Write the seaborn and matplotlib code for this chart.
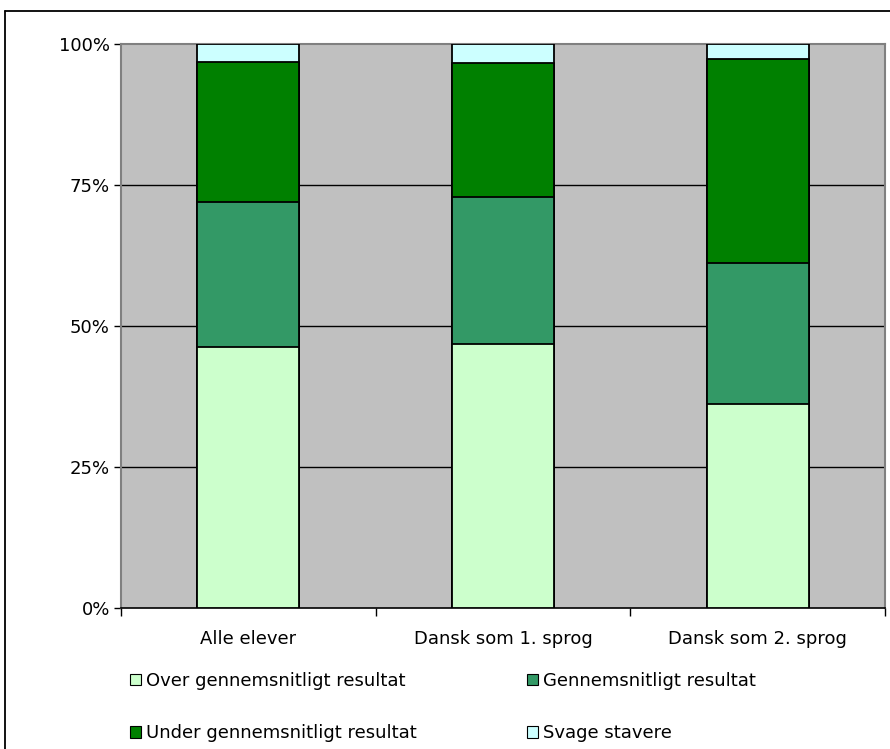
import numpy as np
import pandas as pd
import matplotlib
matplotlib.use("Agg")
import matplotlib.pyplot as plt
from matplotlib.patches import Patch
from matplotlib.lines import Line2D
from matplotlib.ticker import FixedLocator, PercentFormatter
import seaborn as sns

# Stavetest: andel elever fordelt på resultatgruppe
groups = ["Alle elever", "Dansk som 1. sprog", "Dansk som 2. sprog"]
over = [46.3, 46.8, 36.2]      # Over gennemsnitligt resultat
middel = [25.7, 26.0, 24.9]    # Gennemsnitligt resultat
under = [24.8, 23.8, 36.3]     # Under gennemsnitligt resultat
svage = [3.2, 3.4, 2.6]        # Svage stavere

series_names = ["Over gennemsnitligt resultat", "Gennemsnitligt resultat",
                "Under gennemsnitligt resultat", "Svage stavere"]
series_values = [over, middel, under, svage]
series_colors = ["#CCFFCC", "#339966", "#008000", "#CCFFFF"]

sns.set_theme(style="white")
plt.rcParams["font.family"] = ["DejaVu Sans"]
plt.rcParams["text.color"] = "black"

FS = 13

fig = plt.figure(figsize=(8.9, 7.49), dpi=100)
ax = fig.add_axes([121 / 890, 141 / 749, 764 / 890, 564 / 749])
ax.set_facecolor("#C0C0C0")

# stacked bars: draw the cumulative tops from the highest layer down
vals = np.array(series_values, dtype=float)
tops = np.cumsum(vals, axis=0) / 100.0
for i in range(len(series_names) - 1, -1, -1):
    df = pd.DataFrame({"gruppe": groups, "andel": tops[i]})
    sns.barplot(data=df, x="gruppe", y="andel", color=series_colors[i],
                width=0.4, edgecolor="black", linewidth=1.3,
                saturation=1, ax=ax, zorder=3)

ax.set_xlim(-0.5, 2.5)
ax.set_ylim(0, 1)
ax.set_xlabel("")
ax.set_ylabel("")

# gridlines
for yv in (0.25, 0.5, 0.75):
    ax.axhline(yv, color="black", linewidth=1.0, zorder=1)

ax.yaxis.set_major_locator(FixedLocator([0, 0.25, 0.5, 0.75, 1.0]))
ax.yaxis.set_major_formatter(PercentFormatter(1.0, decimals=0))
ax.tick_params(axis="y", which="major", left=True, length=5, width=1,
               color="black", pad=3, labelsize=FS, labelcolor="black")

ax.set_xticks(range(len(groups)))
ax.set_xticklabels(groups)
ax.tick_params(axis="x", which="major", bottom=False, length=0, pad=16,
               labelsize=FS, labelcolor="black")
ax.xaxis.set_minor_locator(FixedLocator([-0.5, 0.5, 1.5, 2.5]))
ax.tick_params(axis="x", which="minor", bottom=True, length=6, width=1,
               color="black")

for side in ("top", "right", "left"):
    ax.spines[side].set_visible(True)
    ax.spines[side].set_color("#808080")
    ax.spines[side].set_linewidth(1.5)
ax.spines["bottom"].set_color("black")
ax.spines["bottom"].set_linewidth(1.2)

# outer chart frame
fig.add_artist(Line2D([5 / 890, 5 / 890], [0, 738 / 749],
                      transform=fig.transFigure, color="black", linewidth=1.3))
fig.add_artist(Line2D([5 / 890, 1.0], [738 / 749, 738 / 749],
                      transform=fig.transFigure, color="black", linewidth=1.3))

# legend laid out row by row (two columns)
order = [0, 2, 1, 3]
handles = [Patch(facecolor=series_colors[k], edgecolor="black", linewidth=0.8)
           for k in order]
labels = [series_names[k] for k in order]
fig.legend(handles, labels, ncol=2, frameon=False,
           loc="upper left", bbox_to_anchor=(130 / 890, 77 / 749),
           fontsize=FS, handlelength=0.6, handleheight=0.6,
           handletextpad=0.3, columnspacing=6.1, labelspacing=1.9,
           borderaxespad=0, borderpad=0, labelcolor="black")

fig.savefig("out.png", dpi=100)
